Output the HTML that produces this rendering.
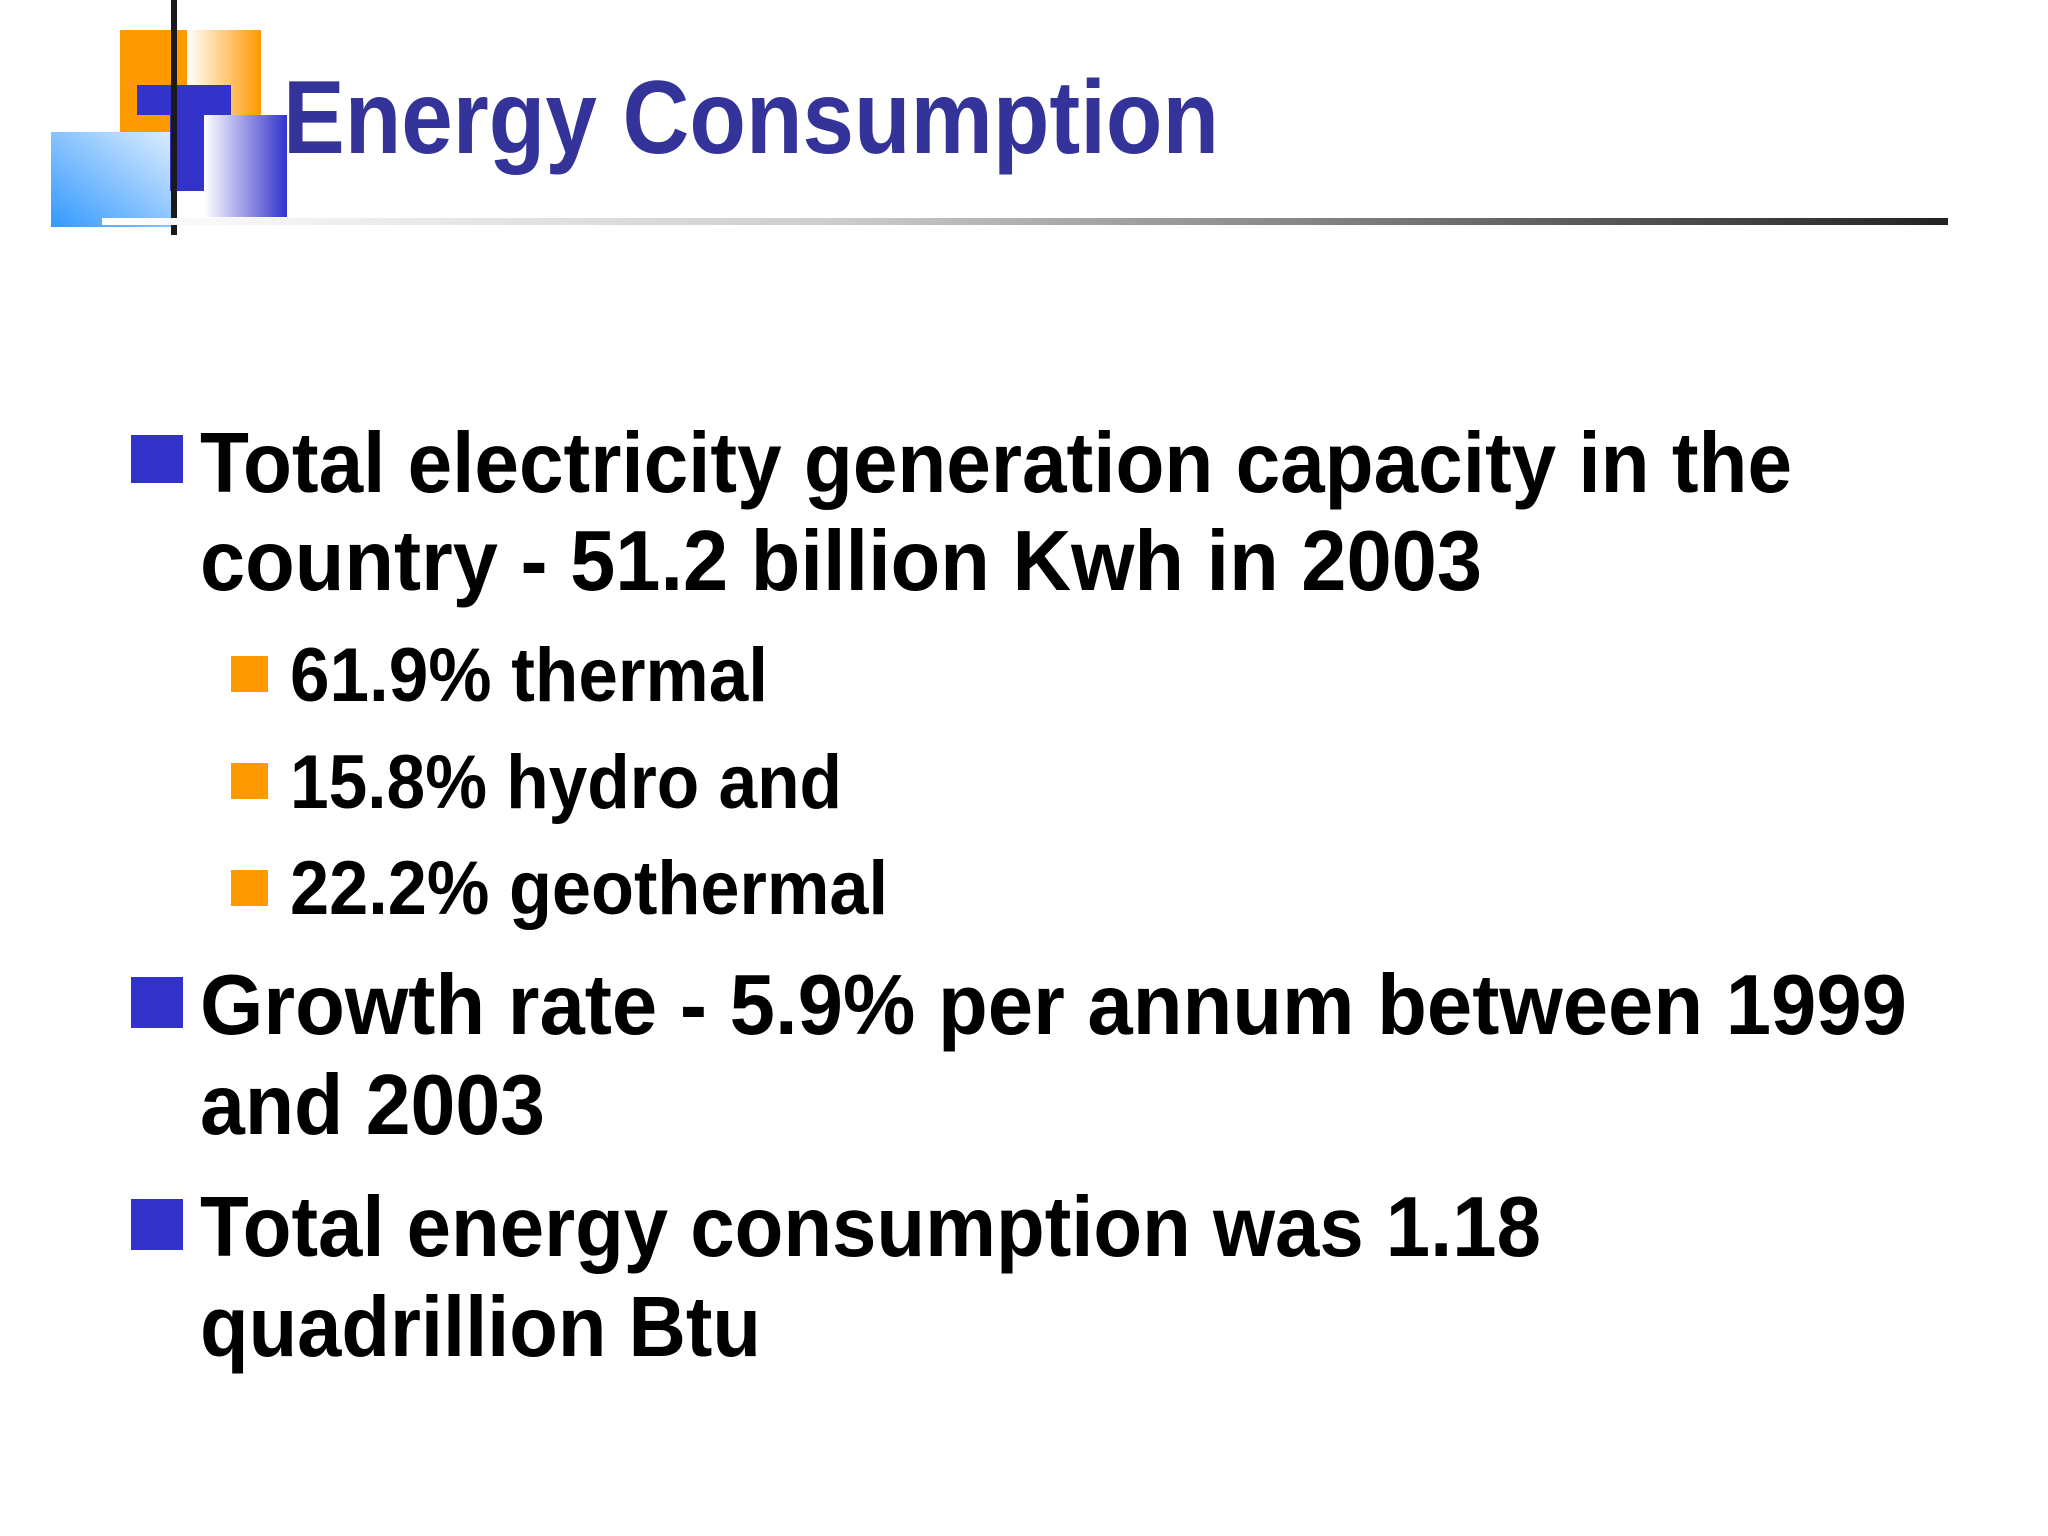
<!DOCTYPE html>
<html><head><meta charset="utf-8"><style>html,body{margin:0;padding:0;background:#fff}svg{display:block}</style></head>
<body>
<svg width="2048" height="1536" viewBox="0 0 2048 1536" xmlns="http://www.w3.org/2000/svg">
<defs>
<linearGradient id="og" x1="0" x2="1"><stop offset="0" stop-color="#fff"/><stop offset="1" stop-color="#ff9900"/></linearGradient>
<linearGradient id="pg" x1="0" x2="1"><stop offset="0" stop-color="#fff"/><stop offset="1" stop-color="#3333cc"/></linearGradient>
<linearGradient id="lb" x1="1" y1="0" x2="0" y2="1"><stop offset="0" stop-color="#dcecff"/><stop offset="1" stop-color="#3399ff"/></linearGradient>
<linearGradient id="ln" x1="0" x2="1"><stop offset="0" stop-color="#fff"/><stop offset="0.4" stop-color="#ccc"/><stop offset="1" stop-color="#222"/></linearGradient>
</defs>
<g>
<rect x="120" y="30" width="67" height="102" fill="#ff9900"/>
<rect x="187" y="30" width="74" height="85" fill="url(#og)"/>
<rect x="51" y="132" width="120" height="95" fill="url(#lb)"/>
<rect x="137" y="85" width="94" height="30" fill="#3333cc"/>
<rect x="170" y="85" width="34" height="106" fill="#3333cc"/>
<rect x="204" y="115" width="83" height="102" fill="url(#pg)"/>
<rect x="171" y="0" width="6" height="235" fill="#1a1a1a"/>
</g>
<rect x="102" y="218" width="1846" height="7" fill="url(#ln)"/>
<text x="283" y="153" font-family="Liberation Sans, sans-serif" font-weight="bold" font-size="104" fill="#333399" textLength="936" lengthAdjust="spacingAndGlyphs">Energy Consumption</text>
<g font-family="Liberation Sans, sans-serif" font-weight="bold" fill="#000">
<rect x="131" y="435" width="52" height="48" fill="#3333cc"/>
<text x="200" y="492" font-size="85" textLength="1592" lengthAdjust="spacingAndGlyphs">Total electricity generation capacity in the</text>
<text x="200" y="590" font-size="85" textLength="1282" lengthAdjust="spacingAndGlyphs">country - 51.2  billion Kwh in 2003</text>
<rect x="231" y="656" width="37" height="36" fill="#ff9900"/>
<text x="290" y="701" font-size="76" textLength="478" lengthAdjust="spacingAndGlyphs">61.9% thermal</text>
<rect x="231" y="763" width="37" height="36" fill="#ff9900"/>
<text x="290" y="808" font-size="76" textLength="552" lengthAdjust="spacingAndGlyphs">15.8% hydro and</text>
<rect x="231" y="870" width="37" height="36" fill="#ff9900"/>
<text x="290" y="914" font-size="76" textLength="598" lengthAdjust="spacingAndGlyphs">22.2% geothermal</text>
<rect x="131" y="977" width="52" height="51" fill="#3333cc"/>
<text x="200" y="1034" font-size="85" textLength="1707" lengthAdjust="spacingAndGlyphs">Growth rate - 5.9% per annum between 1999</text>
<text x="200" y="1134" font-size="85" textLength="345" lengthAdjust="spacingAndGlyphs">and 2003</text>
<rect x="131" y="1199" width="52" height="51" fill="#3333cc"/>
<text x="200" y="1256" font-size="85" textLength="1341" lengthAdjust="spacingAndGlyphs">Total energy consumption was 1.18</text>
<text x="200" y="1356" font-size="85" textLength="561" lengthAdjust="spacingAndGlyphs">quadrillion Btu</text>
</g>
</svg>
</body></html>
